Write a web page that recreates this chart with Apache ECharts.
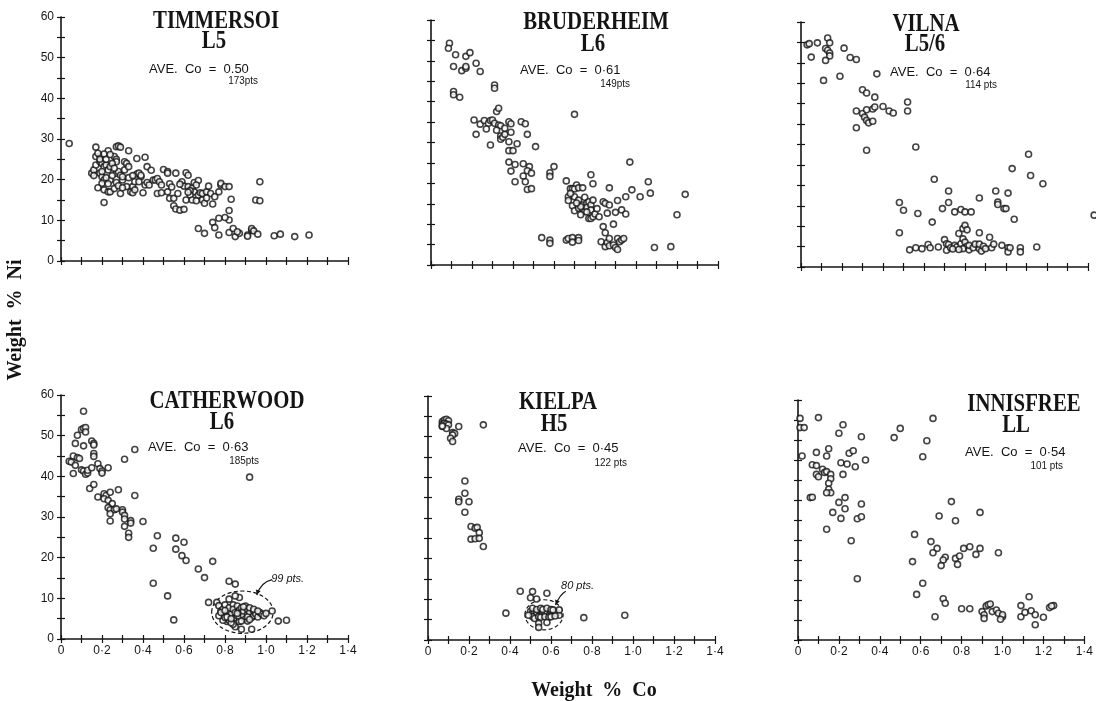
<!DOCTYPE html>
<html>
<head>
<meta charset="utf-8">
<script src="https://cdn.jsdelivr.net/npm/echarts@6/dist/echarts.min.js"></script>
<style>
html,body{margin:0;padding:0;background:#fff;}
#chart{width:1096px;height:701px;}
</style>
</head>
<body>
<div id="chart"></div>
<script>
// ---------- DATA ----------
const panelNames = ['TIMMERSOI', 'BRUDERHEIM', 'VILNA', 'CATHERWOOD', 'KIELPA', 'INNISFREE'];
const panelTypes = ['L5', 'L6', 'L5/6', 'L6', 'H5', 'LL'];
const aveCo = ['0.50', '0·61', '0·64', '0·63', '0·45', '0·54'];
const ptsCounts = ['173pts', '149pts', '114 pts', '185pts', '122 pts', '101 pts'];
const xTickLabels = ['0', '0·2', '0·4', '0·6', '0·8', '1·0', '1·2', '1·4'];
const yTickLabels = ['0', '10', '20', '30', '40', '50', '60'];
const xAxisTitle = 'Weight  %  Co';
const yAxisTitle = 'Weight  %  Ni';

const timmersoi = [[0.04,28.9],[0.17,28.0],[0.23,27.1],[0.27,28.1],[0.28,28.3],[0.29,28.0],[0.33,27.1],
[0.17,25.7],[0.19,25.8],[0.21,26.3],[0.26,25.7],[0.27,25.0],[0.27,24.4],[0.31,24.4],[0.32,24.0],[0.37,25.2],[0.41,25.5],[0.42,23.2],[0.50,22.5],[0.52,22.0],[0.52,21.6],[0.56,21.6],[0.61,21.7],[0.62,21.1],
[0.15,21.6],[0.16,22.4],[0.17,23.6],[0.19,24.4],[0.20,24.0],[0.21,23.2],[0.22,23.6],[0.23,22.4],[0.24,23.2],[0.25,24.0],[0.19,21.6],[0.20,20.7],[0.21,19.9],[0.20,19.1],[0.21,17.5],[0.23,17.0],[0.24,17.0],[0.21,14.4],[0.24,19.9],[0.27,21.6],[0.28,22.0],[0.29,21.1],[0.27,19.3],[0.30,19.9],[0.30,20.7],[0.31,22.4],[0.33,23.2],[0.29,16.6],[0.32,18.3],[0.34,17.0],[0.35,16.8],[0.35,18.3],[0.36,19.5],[0.37,21.4],[0.38,21.6],[0.39,20.7],[0.39,21.1],[0.38,19.5],[0.40,16.8],[0.41,18.7],[0.42,19.3],[0.43,18.7],[0.45,19.9],[0.46,19.9],[0.47,20.3],[0.48,19.5],[0.49,18.7],[0.47,16.6],[0.49,16.8],[0.52,17.0],[0.53,15.4],[0.55,15.4],[0.55,13.6],[0.56,12.8],[0.58,12.5],[0.60,12.7],[0.57,16.6],[0.59,19.5],[0.60,18.4],[0.62,18.3],[0.64,17.9],[0.65,19.3],[0.67,19.8],[0.66,18.7],[0.65,17.0],[0.63,17.3],[0.63,16.2],[0.61,15.0],[0.64,15.0],[0.66,14.8],[0.67,16.2],[0.68,16.8],[0.69,16.6],[0.69,15.0],[0.70,14.2],[0.71,17.0],[0.73,16.6],[0.74,14.0],[0.75,15.8],[0.77,17.0],[0.78,18.7],[0.78,19.1],[0.80,18.3],[0.82,18.3],[0.83,15.2],[0.82,12.4],[0.82,10.1],[0.80,10.7],[0.77,10.5],[0.74,9.5],[0.75,8.2],[0.67,8.0],[0.70,6.8],[0.77,6.4],[0.82,7.0],[0.84,8.0],[0.85,6.0],[0.87,6.8],[0.86,7.2],[0.91,6.4],[0.93,7.6],[0.93,8.0],[0.94,7.4],[0.96,6.6],[0.95,15.0],[0.97,14.8],[0.97,19.5],[1.04,6.2],[1.07,6.6],[1.14,6.0],[1.21,6.4],[0.91,6.1],
[0.18,26.5],[0.19,25.0],[0.20,22.0],[0.22,20.5],[0.23,19.0],[0.25,21.0],[0.26,22.8],[0.22,25.0],[0.24,26.2],[0.16,21.0],[0.18,18.0],[0.26,17.8],[0.28,18.5],[0.30,18.0],[0.33,20.5],[0.35,21.0],[0.36,17.5],[0.44,22.3],[0.53,19.0],[0.54,18.2],[0.58,18.9],[0.62,16.9],[0.71,15.5],[0.72,18.4]];

const bruderheim = [[0.09,54.3],[0.085,53.1],[0.12,51.5],[0.17,51.1],[0.19,52.0],[0.11,48.6],[0.15,47.6],[0.17,48.2],[0.17,48.6],[0.22,49.4],[0.24,47.4],[0.11,42.5],[0.11,41.7],[0.14,41.1],[0.31,44.1],[0.31,43.3],[0.32,37.6],[0.33,38.4],[0.70,36.9],[0.21,35.5],[0.24,34.5],[0.26,35.4],[0.28,34.7],[0.27,33.3],[0.29,35.4],[0.30,35.5],[0.31,34.7],[0.33,34.3],[0.34,34.1],[0.38,35.1],[0.39,34.6],[0.44,35.1],[0.46,34.6],[0.22,32.0],[0.34,31.6],[0.34,30.8],[0.35,31.3],[0.36,32.0],[0.39,32.5],[0.47,32.0],[0.29,29.4],[0.38,30.2],[0.42,29.7],[0.51,29.0],[0.38,28.0],[0.40,28.0],[0.38,25.2],[0.41,24.6],[0.45,24.8],[0.48,24.1],[0.39,23.0],[0.45,21.8],[0.47,23.1],[0.49,22.5],[0.46,20.4],[0.41,20.4],[0.47,18.5],[0.49,18.7],[0.58,22.6],[0.58,21.7],[0.60,24.1],[0.66,20.6],[0.68,18.7],[0.69,18.7],[0.71,19.6],[0.70,18.6],[0.72,18.9],[0.74,18.9],[0.78,22.1],[0.79,19.9],[0.97,25.2],[0.87,18.9],[0.67,16.7],[0.70,16.7],[0.72,15.9],[0.67,15.8],[0.69,14.5],[0.70,13.3],[0.72,13.9],[0.74,14.7],[0.75,16.6],[0.76,15.1],[0.77,15.5],[0.74,13.7],[0.75,13.1],[0.76,14.1],[0.78,14.7],[0.79,15.9],[0.78,13.5],[0.77,11.4],[0.78,11.4],[0.79,11.8],[0.80,12.5],[0.82,11.8],[0.84,15.5],[0.85,15.1],[0.87,14.7],[0.86,12.7],[0.90,12.9],[0.91,15.8],[0.93,13.5],[0.95,12.5],[0.95,16.7],[0.98,18.4],[1.02,16.7],[1.06,20.4],[1.07,17.6],[1.24,17.3],[1.20,12.3],[0.84,9.4],[0.85,7.9],[0.89,10.0],[0.54,6.7],[0.58,6.1],[0.58,5.3],[0.66,6.1],[0.67,6.5],[0.69,6.7],[0.69,5.6],[0.72,6.7],[0.72,6.0],[0.83,5.7],[0.85,4.5],[0.86,5.5],[0.87,6.5],[0.87,4.7],[0.89,4.9],[0.90,4.3],[0.91,3.8],[0.91,6.5],[0.92,5.7],[0.93,6.1],[0.94,6.5],[1.09,4.3],[1.17,4.5],
[0.73,14.3],[0.71,15.2],[0.76,13.0],[0.73,12.3],[0.68,17.5],[0.81,13.8],[0.36,33.5],[0.32,33.0]];

const vilna = [[0.03,54.4],[0.04,54.7],[0.08,54.9],[0.05,51.4],[0.13,56.1],[0.14,54.9],[0.12,53.5],[0.13,53.1],[0.14,52.4],[0.14,51.7],[0.12,50.6],[0.11,45.7],[0.21,53.6],[0.24,51.3],[0.27,50.8],[0.19,46.7],[0.37,47.3],[0.30,43.4],[0.32,42.6],[0.36,41.6],[0.27,38.2],[0.30,37.6],[0.31,36.7],[0.32,38.5],[0.35,38.7],[0.36,39.2],[0.32,35.9],[0.33,35.3],[0.35,35.7],[0.40,39.3],[0.43,38.2],[0.45,37.7],[0.52,40.4],[0.52,38.2],[0.27,34.1],[0.32,28.6],[0.56,29.4],[0.65,21.5],[0.48,15.8],[0.50,13.9],[0.57,13.1],[0.48,8.4],[0.64,11.0],[0.69,14.3],[0.72,18.6],[0.72,15.8],[0.75,13.5],[0.78,14.1],[0.80,13.5],[0.83,13.5],[0.87,16.9],[0.95,18.6],[0.96,15.9],[0.96,15.3],[0.99,14.3],[1.00,14.3],[1.01,18.1],[1.03,24.1],[1.04,11.7],[1.11,27.6],[1.12,22.4],[1.18,20.4],[1.43,12.7],
[0.53,4.2],[0.56,4.7],[0.59,4.5],[0.62,5.5],[0.63,4.7],[0.70,6.7],[0.71,5.7],[0.71,4.1],[0.72,5.5],[0.73,4.7],[0.75,5.3],[0.76,4.9],[0.78,5.7],[0.77,8.2],[0.79,6.9],[0.79,9.4],[0.80,10.2],[0.81,9.1],[0.80,6.1],[0.81,5.1],[0.79,4.5],[0.82,4.2],[0.82,5.3],[0.84,4.7],[0.85,5.6],[0.87,4.5],[0.87,5.6],[0.88,3.9],[0.89,5.1],[0.90,4.5],[0.87,8.4],[0.92,7.3],[0.93,4.7],[0.94,5.6],[0.98,5.3],[1.01,4.7],[1.01,3.7],[1.02,4.7],[1.07,4.7],[1.07,3.7],[1.15,4.9],[0.67,4.9],[0.74,4.4],[0.77,4.3]];

const catherwood = [[0.11,56.0],[0.10,51.5],[0.11,51.8],[0.12,52.0],[0.12,50.9],[0.08,50.1],[0.07,48.1],[0.11,47.5],[0.15,48.7],[0.16,48.1],[0.16,47.7],[0.16,45.6],[0.16,44.9],[0.06,45.0],[0.08,44.6],[0.09,44.4],[0.04,43.7],[0.05,43.5],[0.07,42.7],[0.06,40.7],[0.10,41.6],[0.11,41.3],[0.12,40.5],[0.13,40.8],[0.13,41.5],[0.15,42.1],[0.18,43.1],[0.19,41.9],[0.20,41.3],[0.20,40.8],[0.23,42.1],[0.31,44.2],[0.36,46.6],[0.92,39.8],[0.14,37.0],[0.16,38.0],[0.18,34.9],[0.21,35.7],[0.22,35.3],[0.21,34.5],[0.23,34.1],[0.24,36.1],[0.25,33.3],[0.23,32.3],[0.24,31.8],[0.26,31.8],[0.27,32.0],[0.28,36.7],[0.30,31.8],[0.30,31.2],[0.31,30.4],[0.31,29.5],[0.24,30.8],[0.24,29.0],[0.34,29.1],[0.34,28.5],[0.31,27.7],[0.33,26.0],[0.33,25.0],[0.36,35.3],[0.40,28.9],[0.47,25.4],[0.45,22.3],[0.45,13.7],[0.56,24.8],[0.60,23.8],[0.56,22.1],[0.59,20.5],[0.61,19.3],[0.67,17.2],[0.70,15.1],[0.74,19.1],[0.52,10.6],[0.55,4.7],[0.82,14.2],[0.85,13.5],[0.72,9.0],[1.06,4.4],[1.10,4.6],[1.03,6.9],
[0.76,9.0],[0.77,8.2],[0.78,6.9],[0.79,6.1],[0.79,7.3],[0.80,8.4],[0.81,5.6],[0.81,4.3],[0.82,6.9],[0.82,7.7],[0.82,9.8],[0.83,6.1],[0.84,8.4],[0.84,7.3],[0.85,5.3],[0.85,6.5],[0.85,3.0],[0.86,8.1],[0.86,5.7],[0.87,7.1],[0.87,10.2],[0.87,5.3],[0.88,6.5],[0.88,2.4],[0.88,7.7],[0.89,5.7],[0.89,6.9],[0.90,4.9],[0.90,8.1],[0.91,6.1],[0.91,7.3],[0.91,4.4],[0.92,6.5],[0.92,7.7],[0.93,5.3],[0.93,2.4],[0.94,6.9],[0.94,5.7],[0.95,6.5],[0.95,6.1],[0.96,5.4],[0.97,6.5],[0.98,6.1],[0.99,5.7],[1.00,6.3],[0.84,3.6],[0.82,4.6],[0.79,4.6],[0.77,5.7],[0.80,5.3],[0.83,4.0],[0.87,4.3],[0.85,10.6],[0.78,6.5],[0.81,5.4],[0.88,4.4],[0.91,5.4],[0.94,7.3],[0.80,7.0],[0.83,5.0],[0.86,6.3],[0.89,7.9],[0.92,4.8],[0.96,6.9]];

const kielpa = [[0.07,53.7],[0.08,54.1],[0.09,54.3],[0.10,53.9],[0.07,53.1],[0.08,53.3],[0.09,53.1],[0.10,52.9],[0.07,52.5],[0.09,52.0],[0.07,52.6],[0.15,52.5],[0.12,51.0],[0.13,50.8],[0.12,50.4],[0.11,49.6],[0.12,48.8],[0.27,52.9],
[0.18,39.1],[0.18,36.1],[0.15,34.6],[0.15,34.0],[0.20,34.0],[0.18,31.4],[0.21,27.9],[0.23,27.5],[0.24,27.7],[0.25,26.4],[0.21,24.8],[0.23,24.9],[0.25,25.0],[0.27,23.0],
[0.45,12.0],[0.51,11.9],[0.50,10.4],[0.53,10.1],[0.58,11.5],[0.38,6.6],[0.76,5.5],[0.96,6.1],
[0.50,7.0],[0.51,6.6],[0.52,7.0],[0.53,6.1],[0.53,6.7],[0.54,7.2],[0.55,6.1],[0.56,6.7],[0.57,7.2],[0.57,6.4],[0.58,6.9],[0.59,6.1],[0.60,6.7],[0.61,7.2],[0.61,6.4],[0.62,6.9],[0.63,6.6],[0.64,6.1],[0.51,5.7],[0.52,5.3],[0.54,5.7],[0.55,5.6],[0.57,5.7],[0.59,5.6],[0.60,5.7],[0.62,5.9],[0.51,7.8],[0.53,7.5],[0.55,7.8],[0.56,7.5],[0.58,7.8],[0.60,7.5],[0.61,7.4],[0.54,4.1],[0.54,3.1],[0.58,4.3],[0.49,6.1],[0.64,7.4]];

const innisfree = [[0.01,55.4],[0.10,55.6],[0.01,53.1],[0.03,53.1],[0.22,53.8],[0.20,51.7],[0.31,50.8],[0.47,50.6],[0.50,52.9],[0.66,55.4],[0.63,49.8],[0.61,45.8],[0.02,46.0],[0.09,46.9],[0.15,47.8],[0.14,46.0],[0.25,46.7],[0.27,47.3],[0.33,45.0],[0.21,44.3],[0.24,44.0],[0.28,43.3],[0.07,43.8],[0.09,43.6],[0.12,42.7],[0.13,41.9],[0.14,42.1],[0.16,41.4],[0.09,41.4],[0.10,40.8],[0.16,40.3],[0.15,39.2],[0.22,41.4],[0.15,37.7],[0.16,36.8],[0.14,36.8],[0.06,35.6],[0.07,35.7],[0.20,34.4],[0.23,35.6],[0.31,34.0],[0.23,32.8],[0.17,31.9],[0.21,30.4],[0.29,30.3],[0.31,30.8],[0.14,27.7],[0.26,24.8],[0.29,15.3],
[0.75,34.6],[0.89,31.9],[0.69,31.0],[0.77,29.8],[0.57,26.4],[0.65,24.6],[0.68,22.9],[0.66,21.8],[0.56,19.6],[0.72,20.7],[0.71,20.0],[0.70,18.6],[0.77,20.4],[0.79,21.0],[0.78,18.9],[0.81,22.9],[0.84,23.3],[0.87,21.4],[0.89,22.9],[0.98,21.8],[0.61,14.2],[0.58,11.4],[0.71,10.3],[0.72,9.2],[0.67,5.8],[0.80,7.8],[0.84,7.8],[0.90,7.1],[0.91,6.3],[0.91,5.4],[0.92,8.5],[0.93,8.8],[0.94,9.0],[0.95,7.1],[0.97,7.5],[0.98,6.7],[1.00,5.8],[1.00,6.3],[0.99,5.2],[1.09,5.8],[1.09,8.6],[1.11,6.9],[1.13,10.8],[1.14,7.3],[1.16,6.3],[1.16,3.8],[1.20,5.7],[1.23,8.1],[1.25,8.6],[1.24,8.5]];

const panelData = [timmersoi, bruderheim, vilna, catherwood, kielpa, innisfree];

// annotation (dashed ellipses around clusters), in data units
const clusterPanel = [3, 4];
const clusterCenter = [[0.885, 6.6], [0.566, 6.2]];
const clusterRadius = [[0.15, 5.2], [0.093, 3.7]];
const clusterLabel = ['99 pts.', '80 pts.'];
const clusterLabelAt = [[1.025, 14.8], [0.649, 13.3]];
const clusterArrow = [[[1.03, 14.6], [0.975, 14.0], [0.955, 10.8]], [[0.672, 12.0], [0.645, 11.3], [0.622, 8.6]]];

// ---------- LAYOUT ----------
const grids = [
  {left: 61, top: 17, width: 287, height: 244},
  {left: 431, top: 20, width: 287, height: 245},
  {left: 801, top: 22, width: 287, height: 245},
  {left: 61, top: 395, width: 287, height: 244},
  {left: 428, top: 396, width: 287, height: 244},
  {left: 798, top: 400, width: 287, height: 240}
];
const titlePos = [
  {name:[216,21], type:[214,41], ave:[149,69], pts:[258,81]},
  {name:[596,22], type:[593,44], ave:[520,70], pts:[630,84]},
  {name:[926,24], type:[925,44], ave:[890,72], pts:[997,85]},
  {name:[227,401], type:[222,422], ave:[148,447], pts:[259,461]},
  {name:[558,402], type:[554,424], ave:[518,448], pts:[627,463]},
  {name:[1024,404], type:[1016,425], ave:[965,452], pts:[1063,466]}
];

const INK = '#141414';
const chart = echarts.init(document.getElementById('chart'), null, {renderer: 'canvas'});

const xAxes = [], yAxes = [], series = [];
for (let i = 0; i < 6; i++) {
  const bottomRow = i >= 3, leftCol = i % 3 === 0;
  const xBase = {
    type: 'value', gridIndex: i, min: 0, max: 1.4, interval: 0.1, position: 'bottom',
    splitLine: {show: false}
  };
  xAxes.push(Object.assign({}, xBase, {
    axisLine: {show: true, lineStyle: {color: INK, width: 1.6}},
    axisTick: {show: true, inside: false, length: 4, lineStyle: {color: INK, width: 1.2}},
    axisLabel: {show: bottomRow, margin: 6, color: INK, fontSize: 12, fontFamily: 'Liberation Sans',
      formatter: v => { const k = Math.round(v * 10); return k % 2 === 0 ? xTickLabels[k / 2] : ''; }}
  }));
  xAxes.push(Object.assign({}, xBase, {
    axisLine: {show: false},
    axisTick: {show: true, inside: true, length: 4, lineStyle: {color: INK, width: 1.2}},
    axisLabel: {show: false}
  }));
  const yBase = {
    type: 'value', gridIndex: i, min: 0, max: 60, interval: 5, position: 'left',
    splitLine: {show: false}
  };
  yAxes.push(Object.assign({}, yBase, {
    axisLine: {show: true, lineStyle: {color: INK, width: 1.6}},
    axisTick: {show: true, inside: false, length: 4, lineStyle: {color: INK, width: 1.2}},
    axisLabel: {show: leftCol, margin: 7, color: INK, fontSize: 12, fontFamily: 'Liberation Sans',
      formatter: v => { const k = Math.round(v); return k % 10 === 0 ? yTickLabels[k / 10] : ''; }}
  }));
  yAxes.push(Object.assign({}, yBase, {
    axisLine: {show: false},
    axisTick: {show: true, inside: true, length: 4, lineStyle: {color: INK, width: 1.2}},
    axisLabel: {show: false}
  }));
  series.push({
    type: 'scatter', name: panelNames[i], xAxisIndex: 2 * i, yAxisIndex: 2 * i,
    data: panelData[i], clip: false, symbol: 'circle', symbolSize: 6,
    itemStyle: {color: '#ffffff', borderColor: INK, borderWidth: 1.6},
    emphasis: {disabled: true}, silent: true, animation: false
  });
}

chart.setOption({
  backgroundColor: '#ffffff',
  animation: false,
  grid: grids,
  xAxis: xAxes,
  yAxis: yAxes,
  series: series
});

// ---------- TEXT & ANNOTATIONS ----------
const g = [];
function txt(x, y, text, font, align, extra) {
  return Object.assign({
    type: 'text', x: x, y: y, silent: true,
    style: {text: text, fill: INK, font: font, textAlign: align, align: align,
      textVerticalAlign: 'middle', verticalAlign: 'middle'}
  }, extra || {});
}
for (let i = 0; i < 6; i++) {
  const p = titlePos[i];
  g.push(txt(p.name[0], p.name[1], panelNames[i], 'bold 26px "Liberation Serif"', 'center', {scaleX: 0.8}));
  g.push(txt(p.type[0], p.type[1], panelTypes[i], 'bold 26px "Liberation Serif"', 'center', {scaleX: 0.8}));
  g.push(txt(p.ave[0], p.ave[1], 'AVE.  Co  =  ' + aveCo[i], '13px "Liberation Sans"', 'left'));
  g.push(txt(p.pts[0], p.pts[1], ptsCounts[i], '11px "Liberation Sans"', 'right', {scaleX: 0.9}));
}
g.push(txt(16, 320, yAxisTitle, 'bold 20px "Liberation Serif"', 'center', {rotation: Math.PI / 2}));
g.push(txt(594, 691, xAxisTitle, 'bold 20px "Liberation Serif"', 'center'));

for (let k = 0; k < clusterPanel.length; k++) {
  const si = clusterPanel[k];
  const c = chart.convertToPixel({seriesIndex: si}, clusterCenter[k]);
  const ex = chart.convertToPixel({seriesIndex: si}, [clusterCenter[k][0] + clusterRadius[k][0], clusterCenter[k][1] + clusterRadius[k][1]]);
  g.push({type: 'ellipse', silent: true, shape: {cx: c[0], cy: c[1], rx: Math.abs(ex[0] - c[0]), ry: Math.abs(ex[1] - c[1])},
    style: {fill: 'none', stroke: INK, lineWidth: 1.2, lineDash: [4, 2.5]}});
  const lp = chart.convertToPixel({seriesIndex: si}, clusterLabelAt[k]);
  g.push(txt(lp[0], lp[1], clusterLabel[k], 'italic 11px "Liberation Sans"', 'left'));
  const a = clusterArrow[k].map(pt => chart.convertToPixel({seriesIndex: si}, pt));
  g.push({type: 'bezierCurve', silent: true,
    shape: {x1: a[0][0], y1: a[0][1], cpx1: a[1][0], cpy1: a[1][1], x2: a[2][0], y2: a[2][1]},
    style: {fill: 'none', stroke: INK, lineWidth: 1.2}});
  const dx = a[2][0] - a[1][0], dy = a[2][1] - a[1][1];
  const L = Math.hypot(dx, dy) || 1, ux = dx / L, uy = dy / L;
  const hl = 5, hw = 2.5;
  g.push({type: 'polygon', silent: true, shape: {points: [
    [a[2][0], a[2][1]],
    [a[2][0] - ux * hl - uy * hw, a[2][1] - uy * hl + ux * hw],
    [a[2][0] - ux * hl + uy * hw, a[2][1] - uy * hl - ux * hw]
  ]}, style: {fill: INK}});
}
chart.setOption({graphic: g});
</script>
</body>
</html>
